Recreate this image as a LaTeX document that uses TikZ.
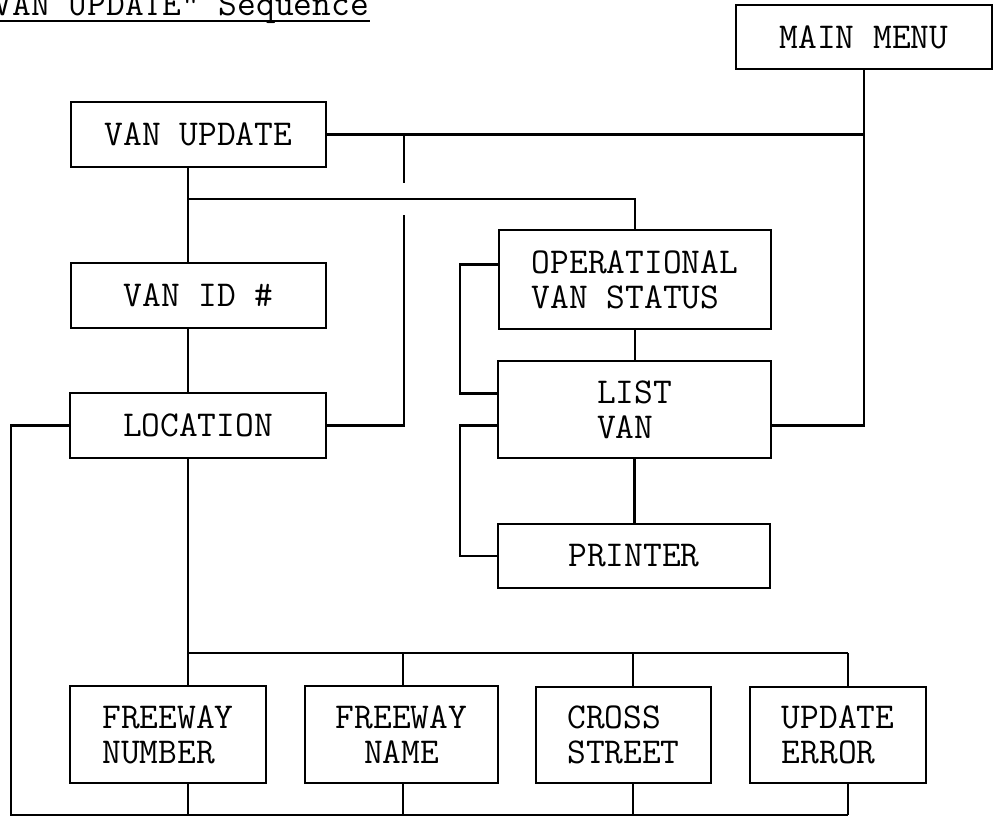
\documentclass[tikz,border=0pt]{standalone}
\usetikzlibrary{calc}
\begin{document}
\begin{tikzpicture}[
    x=0.5pt, y=-0.5pt, line width=1.1pt,
    every node/.style={font=\ttfamily\fontsize{18.2pt}{17.5pt}\selectfont},
    box/.style 2 args={draw, line width=1.2pt, inner sep=0pt, align=center, minimum width=0.5pt*#1, minimum height=0.5pt*#2}
]
    \useasboundingbox (0,0) rectangle (993,817);

    % Title
    \node[anchor=base west, inner sep=0pt] (title) at (-26,16) {"VAN UPDATE" Sequence};
    \draw ($(title.base west)+(0,5)$) -- ($(title.base east)+(0,5)$);

    % Left column
    \node[box={255}{65}] (upd) at (198.5,134.5) {VAN UPDATE};
    \node[box={255}{65}] (vid) at (198.5,295.5) {VAN ID \#};
    \node[box={256}{65}] (loc) at (198,425.5) {LOCATION};

    % Right column
    \node[box={256}{64}] (menu) at (864,37) {MAIN MENU};
    \node[box={272}{99}, align=left] (ops) at (635,279.5) {OPERATIONAL\\VAN STATUS};
    \node[box={273}{97}, align=left] (list) at (634.5,409.5) {LIST\\VAN};
    \node[box={272}{64}] (prn) at (634,556) {PRINTER};

    % Bottom row
    \node[box={196}{97}, align=left] (fnum) at (168,734.5) {FREEWAY\\NUMBER};
    \node[box={193}{97}] (fnam) at (401.5,734.5) {FREEWAY\\NAME};
    \node[box={175}{96}, align=left] (cst) at (623.5,735) {CROSS\\STREET};
    \node[box={176}{96}, align=left] (uerr) at (838,735) {UPDATE\\ERROR};

    % Junction lines
    \coordinate (sp) at (188,0);
    \coordinate (hop) at (404,0);
    \coordinate (br) at (460,0);
    \coordinate (rim) at (11,0);
    \coordinate (d2) at (403,0);
    \coordinate (d3) at (633,0);
    \coordinate (d4) at (848,0);
    \coordinate (bus1) at (0,199);
    \coordinate (bus) at (0,653);
    \coordinate (base) at (0,815);

    % Main menu links
    \draw (upd.east) -- (upd.east -| menu.south);
    \draw (menu.south) |- ($(list.east)+(0,16)$);

    % Location back to van update, hopping the upper bus
    \draw (loc.east) -| ($(hop |- bus1)+(0,16)$);
    \draw ($(hop |- bus1)+(0,-16)$) -- (hop |- upd.east);

    % Spine
    \draw (upd.south -| sp) -- (vid.north -| sp);
    \draw (vid.south -| sp) -- (loc.north -| sp);
    \draw (loc.south -| sp) -- (bus -| sp);
    \draw (bus1 -| sp) -| (ops.north);

    % Status, list and printer
    \draw (ops.south) -- (ops.south |- list.north);
    \draw (list.south) -- (list.south |- prn.north);
    \draw ($(ops.west)+(0,-15)$) -| ($(br |- list.west)+(0,-16)$) -- ($(list.west)+(0,-16)$);
    \draw ($(list.west)+(0,16)$) -| (br |- prn.west) -- (prn.west);

    % Lower bus and return line
    \draw (bus -| sp) -- (bus -| d4);
    \foreach \b/\d in {fnum/sp, fnam/d2, cst/d3, uerr/d4} {
        \draw (bus -| \d) -- (\b.north -| \d);
        \draw (\b.south -| \d) -- (base -| \d);
    }
    \draw (loc.west) -| (base -| rim) -- (base -| d4);
\end{tikzpicture}
\end{document}
